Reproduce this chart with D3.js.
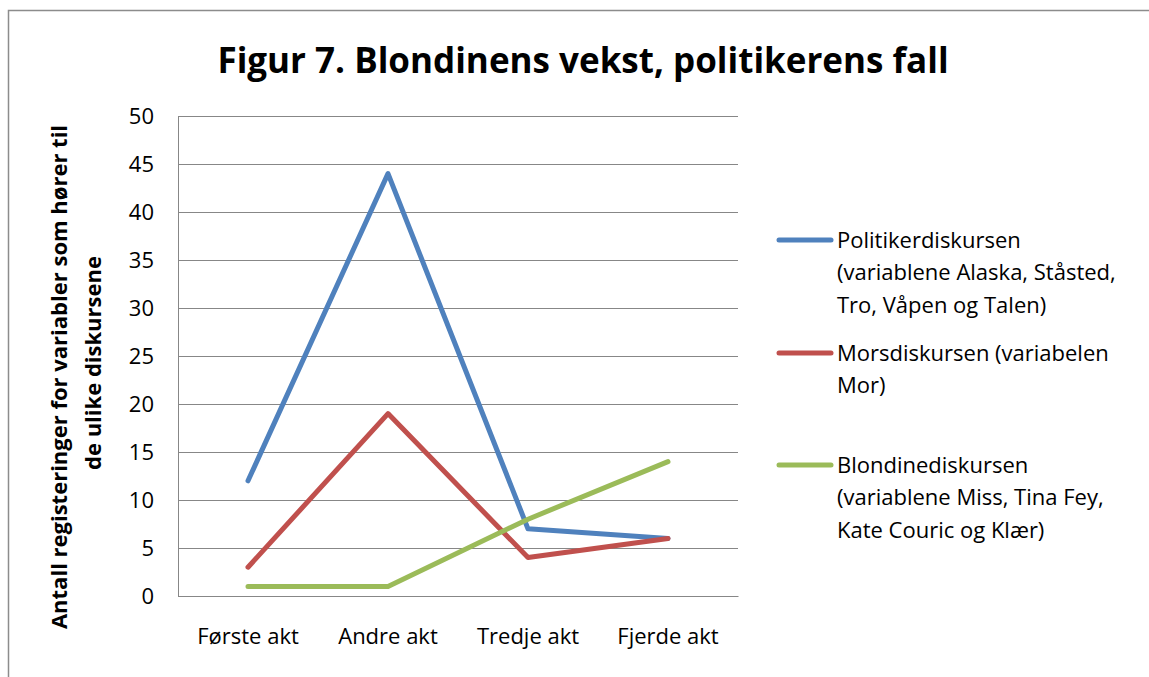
<!DOCTYPE html>
<html>
<head>
<meta charset="utf-8">
<script src="https://cdn.jsdelivr.net/npm/d3@7"></script>
<style>
  body { margin: 0; background: #fff; }
  svg text { font-family: "Open Sans", Lato, sans-serif; fill: #000; }
</style>
</head>
<body>
<svg id="chart" width="1149" height="677"></svg>
<script>
// data
var acts = ["Første akt", "Andre akt", "Tredje akt", "Fjerde akt"];
var politiker = [12, 44, 7, 6];
var mors = [3, 19, 4, 6];
var blondine = [1, 1, 8, 14];
var yTicks = [0, 5, 10, 15, 20, 25, 30, 35, 40, 45, 50];
var seriesNames = [
  ["Politikerdiskursen", "(variablene Alaska, Ståsted,", "Tro, Våpen og Talen)"],
  ["Morsdiskursen (variabelen", "Mor)"],
  ["Blondinediskursen", "(variablene Miss, Tina Fey,", "Kate Couric og Klær)"]
];
var colors = ["#4F81BD", "#C0504D", "#9BBB59"];

var svg = d3.select("#chart");

// outer frame (continues past the right/bottom edge)
svg.append("rect")
  .attr("x", 8.5).attr("y", 10.5)
  .attr("width", 1160).attr("height", 700)
  .style("fill", "none").style("stroke", "#8c8c8c").style("stroke-width", 1.5);

var plot = {left: 178, top: 116, right: 738, bottom: 596};

var x = d3.scaleBand().domain(acts).range([plot.left, plot.right]);
var y = d3.scaleLinear().domain([0, 50]).range([plot.bottom, plot.top]);

// gridlines
svg.append("g").selectAll("line")
  .data(yTicks)
  .enter().append("line")
  .attr("x1", plot.left).attr("x2", plot.right)
  .attr("y1", function(d) { return y(d) + 0.5; })
  .attr("y2", function(d) { return y(d) + 0.5; })
  .style("stroke", "#878787").style("stroke-width", 1);

// axes
var yAxis = svg.append("g")
  .attr("transform", "translate(" + plot.left + ",0)")
  .call(d3.axisLeft(y).tickValues(yTicks).tickSize(0).tickPadding(24));
yAxis.select(".domain").style("stroke", "#878787");
yAxis.selectAll("text").style("font-size", "22px").attr("dy", "0.35em");

var xAxis = svg.append("g")
  .attr("transform", "translate(0," + plot.bottom + ")")
  .call(d3.axisBottom(x).tickSize(0).tickPadding(32));
xAxis.select(".domain").style("stroke", "#878787");
xAxis.selectAll("text").style("font-size", "22px");

// y title (sits a little below the plot middle)
var yTitle = svg.append("text")
  .attr("transform", "translate(67,371) rotate(-90)")
  .attr("text-anchor", "middle")
  .style("font-size", "22px").style("font-weight", "bold");
yTitle.append("tspan").attr("x", -6).attr("dy", 0).text("Antall registeringer for variabler som hører til");
yTitle.append("tspan").attr("x", 8).attr("dy", 34).text("de ulike diskursene");

// title
svg.append("text")
  .attr("x", 583).attr("y", 73)
  .attr("text-anchor", "middle")
  .style("font-size", "35px").style("font-weight", "bold")
  .text("Figur 7. Blondinens vekst, politikerens fall");

// lines
var line = d3.line()
  .x(function(d, i) { return x(acts[i]) + x.bandwidth() / 2; })
  .y(function(d) { return y(d); });

svg.append("g").selectAll("path")
  .data([politiker, mors, blondine])
  .enter().append("path")
  .attr("d", line)
  .style("fill", "none")
  .style("stroke", function(d, i) { return colors[i]; })
  .style("stroke-width", 5)
  .style("stroke-linejoin", "round")
  .style("stroke-linecap", "round");

// legend
var legendY = [240, 353, 465];
var legend = svg.append("g").selectAll("g")
  .data(seriesNames)
  .enter().append("g")
  .attr("transform", function(d, i) { return "translate(0," + legendY[i] + ")"; });

legend.append("line")
  .attr("x1", 779).attr("x2", 831)
  .style("stroke", function(d, i) { return colors[i]; })
  .style("stroke-width", 5)
  .style("stroke-linecap", "round");

legend.each(function(d) {
  var t = d3.select(this).append("text")
    .attr("x", 837).attr("y", 0)
    .style("font-size", "22px");
  d.forEach(function(s, j) {
    t.append("tspan").attr("x", 837).attr("y", j * 32.5).attr("dy", "0.35em").text(s);
  });
});
</script>
</body>
</html>
